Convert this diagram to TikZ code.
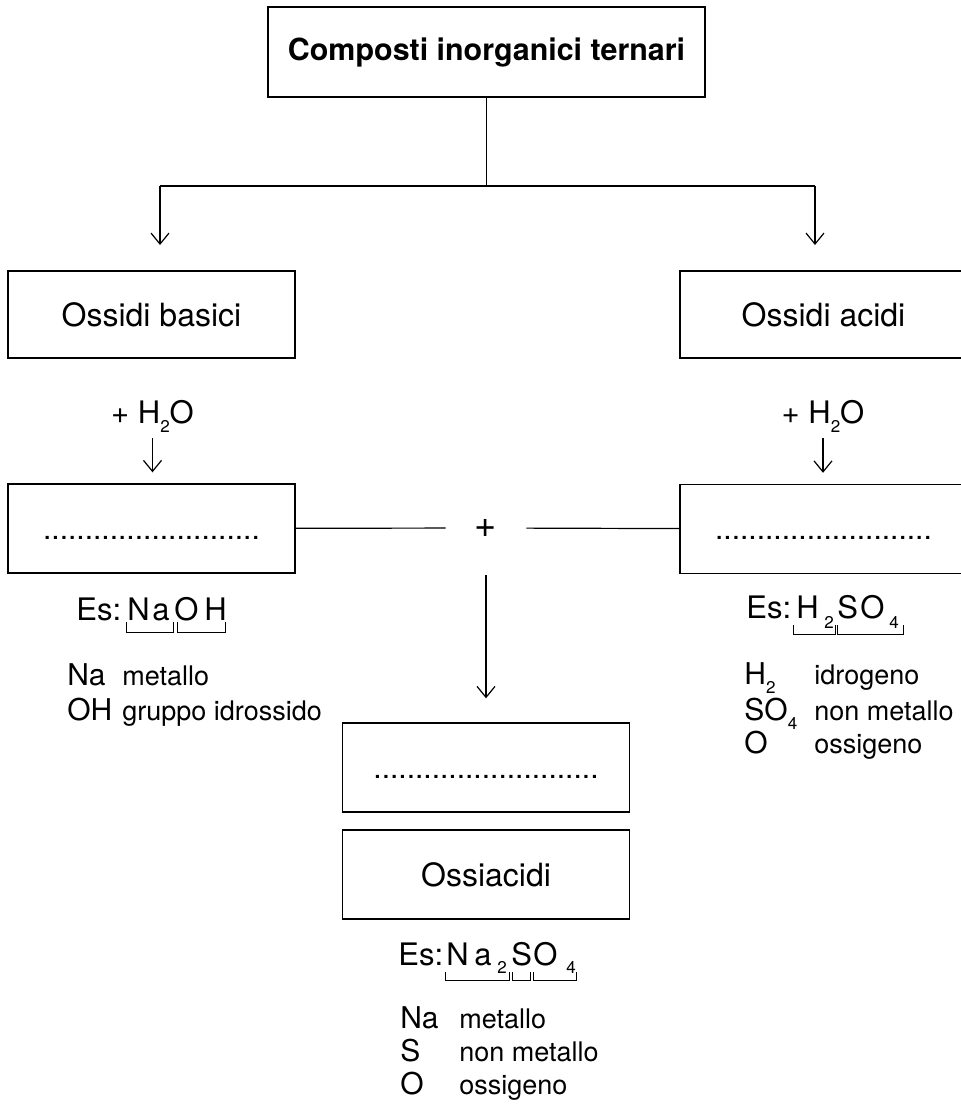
\documentclass[tikz,border=0pt]{standalone}
\usepackage{fontspec}
\setmainfont{TeX Gyre Heros}
\usetikzlibrary{arrows.meta}

% lowered index for formulas
\newcommand{\lowix}[1]{\raisebox{-4.5pt}{\fontsize{8.5}{10}\selectfont #1}}

\tikzset{
  box/.style={draw, line width=0.7pt, minimum width=143.5pt, minimum height=44.5pt, inner sep=0pt, font=\fontsize{16}{19}\selectfont},
  oxbox/.style={box, minimum height=43.5pt},
  dotbox/.style={box, text height=10.5pt, text depth=0pt, font=\fontsize{15}{18}\selectfont},
  titlebox/.style={box, minimum width=218.5pt, minimum height=45pt, font=\bfseries\fontsize{15.2}{18}\selectfont},
  link/.style={line width=0.6pt},
  arr/.style={line width=0.6pt, -{Straight Barb[length=5.5pt,width=9pt]}},
  glyph/.style={inner sep=0pt, anchor=base west, font=\fontsize{15.5}{18}\selectfont},
  lowdigit/.style={glyph, font=\fontsize{8.5}{10}\selectfont},
  symb/.style={glyph, font=\fontsize{15}{18}\selectfont},
  word/.style={glyph, font=\fontsize{13.5}{16}\selectfont},
  brk/.style={line width=0.5pt},
}

\begin{document}
\begin{tikzpicture}[x=0.5pt, y=-0.5pt]
    \useasboundingbox (0,0) rectangle (960,1104);

    % Boxes
    \node[titlebox] (title) at (486.5,52) {Composti inorganici ternari};
    \node[oxbox] (basici) at (151.5,314.5) {Ossidi basici};
    \node[oxbox] (acidi) at (823.5,314.5) {Ossidi acidi};
    \node[dotbox] (hydrox) at (151.5,528.5) {..........................};
    \node[dotbox] (oxyac) at (823.5,529) {..........................};
    \node[dotbox] (salt) at (486,767.5) {...........................};
    \node[box] (ossiac) at (486,874.5) {Ossiacidi};

    % Water labels and the plus sign
    \node[glyph, anchor=base] (waterL) at (152.5,423) {+ H\lowix{2}O};
    \node[glyph, anchor=base] (waterR) at (823,423) {+ H\lowix{2}O};
    \node[inner sep=0pt, minimum width=40pt, minimum height=47pt, font=\fontsize{19}{22}\selectfont] (plus) at (486,528) {+};

    % Fork below the title
    \coordinate (forkL) at (160,186);
    \coordinate (forkR) at (815,186);
    \coordinate (tipL) at (160,245);
    \coordinate (tipR) at (815,245);
    \draw[link] (title.south) -- (title.south |- forkL);
    \draw[link] (forkL) -- (forkR);
    \draw[arr] (forkL) -- (tipL);
    \draw[arr] (forkR) -- (tipR);

    % + H2O arrows
    \draw[arr, shorten <=3pt, shorten >=5.5pt] (waterL.south) -- (waterL.south |- hydrox.north);
    \draw[arr, shorten <=3pt, shorten >=5.5pt] (waterR.south) -- (waterR.south |- oxyac.north);

    % Hydroxide + oxyacid
    \draw[link] (hydrox) -- (plus);
    \draw[link] (plus) -- (oxyac);
    \draw[arr, shorten >=12pt] (plus) -- (salt);

    % Es: NaOH
    \foreach \g/\x [count=\i] in {Es:/76,N/127,a/152,O/174,H/204}
      \node[glyph] (naoh\i) at (\x,620) {\g};
    \foreach \a/\b in {126/173,177/225}
      \draw[brk] (\a,622) -- (\a,632) -- (\b,632) -- (\b,622);

    % Es: H2SO4
    \foreach \g/\x [count=\i] in {Es:/746,H/796,S/837,O/860}
      \node[glyph] (hso\i) at (\x,618) {\g};
    \node[lowdigit] (hsoA) at (824,628) {2};
    \node[lowdigit] (hsoB) at (889,628) {4};
    \foreach \a/\b in {793/835,837/903}
      \draw[brk] (\a,625) -- (\a,634) -- (\b,634) -- (\b,625);

    % Es: Na2SO4
    \foreach \g/\x [count=\i] in {Es:/398,N/446,a/474,S/511,O/533}
      \node[glyph] (naso\i) at (\x,965) {\g};
    \node[lowdigit] (nasoA) at (497,973) {2};
    \node[lowdigit] (nasoB) at (566,973) {4};
    \foreach \a/\b in {445/509,512/530,533/576}
      \draw[brk] (\a,972) -- (\a,980) -- (\b,980) -- (\b,972);

    % Legends
    \foreach \s/\w/\y [count=\i] in {Na/metallo/685, OH/gruppo idrossido/720} {
      \node[symb] (symL\i) at (67,\y) {\s};
      \node[word] (wordL\i) at (122,\y) {\w};
    }
    \foreach \s/\w/\y [count=\i] in {{H\lowix{2}}/idrogeno/684, {SO\lowix{4}}/non metallo/720, O/ossigeno/753} {
      \node[symb] (symR\i) at (744,\y) {\s};
      \node[word] (wordR\i) at (814,\y) {\w};
    }
    \foreach \s/\w/\y [count=\i] in {Na/metallo/1028, S/non metallo/1061, O/ossigeno/1094} {
      \node[symb] (symM\i) at (400,\y) {\s};
      \node[word] (wordM\i) at (459,\y) {\w};
    }
\end{tikzpicture}
\end{document}
